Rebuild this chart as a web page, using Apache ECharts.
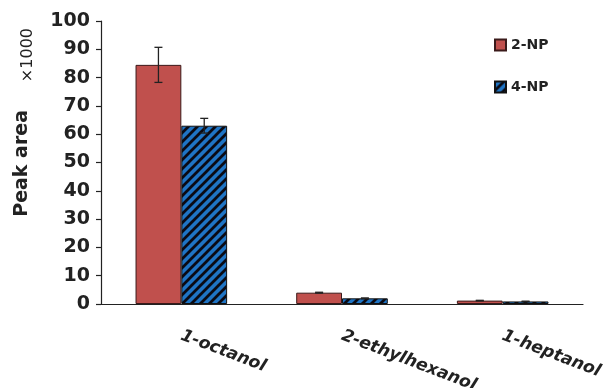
<!DOCTYPE html>
<html>
<head>
<meta charset="utf-8">
<script src="https://cdn.jsdelivr.net/npm/echarts@6/dist/echarts.min.js"></script>
<style>
  html, body { margin: 0; padding: 0; background: #fff; }
  #chart { width: 604px; height: 388px; }
</style>
</head>
<body>
<div id="chart"></div>
<script>
// Extraction solvents and peak areas (×1000) for the two nitrophenols
const categories = ['1-octanol', '2-ethylhexanol', '1-heptanol'];
const np2Values = [84.5, 4.0, 1.2];
const np4Values = [63.0, 2.0, 0.9];
const np2Errors = [6.2, 0.15, 0.1];
const np4Errors = [2.6, 0.15, 0.1];
const yTicks = [0, 10, 20, 30, 40, 50, 60, 70, 80, 90, 100];

const FONT = '"DejaVu Sans", "Open Sans", sans-serif';
const RED = '#C0504D';
const BLUE = '#1F74C4';

// Blue fill with black "/" hatching
function hatchPattern() {
  const s = 9;
  const c = document.createElement('canvas');
  c.width = s; c.height = s;
  const g = c.getContext('2d');
  g.fillStyle = BLUE;
  g.fillRect(0, 0, s, s);
  g.strokeStyle = '#0a0a14';
  g.lineWidth = 2.8;
  g.beginPath();
  for (let k = -1; k <= 1; k++) {
    g.moveTo(k * s - 1, s + 1);
    g.lineTo(k * s + s + 1, -1);
  }
  g.stroke();
  return c;
}
const hatch = { image: hatchPattern(), repeat: 'repeat' };

const CAT_GAP = 0.43;

function errorSeries(values, errors, side) {
  return {
    type: 'custom',
    silent: true,
    z: 5,
    data: values.map((v, i) => [i, v, errors[i]]),
    renderItem: function (params, api) {
      const i = api.value(0), v = api.value(1), e = api.value(2);
      const band = api.size([1, 0])[0];
      const bw = band * (1 - CAT_GAP) / 2;
      const c = api.coord([i, v]);
      const x = c[0] + side * bw / 2;
      const top = api.coord([i, v + e])[1];
      const bot = api.coord([i, v - e])[1];
      const cap = 4;
      const st = { stroke: '#222', lineWidth: 1.3 };
      return {
        type: 'group',
        children: [
          { type: 'line', shape: { x1: x, y1: top, x2: x, y2: bot }, style: st },
          { type: 'line', shape: { x1: x - cap, y1: top, x2: x + cap, y2: top }, style: st },
          { type: 'line', shape: { x1: x - cap, y1: bot, x2: x + cap, y2: bot }, style: st }
        ]
      };
    }
  };
}

const chart = echarts.init(document.getElementById('chart'), null, { renderer: 'canvas' });
chart.setOption({
  animation: false,
  backgroundColor: '#fff',
  grid: { left: 101, right: 21, top: 21, bottom: 84, containLabel: false, outerBoundsMode: 'none' },
  legend: {
    left: 489, top: 33,
    orient: 'vertical',
    itemWidth: 11, itemHeight: 11, itemGap: 28,
    icon: 'rect',
    textStyle: { fontFamily: FONT, fontWeight: 'bold', fontSize: 14, color: '#222' },
    data: ['2-NP', '4-NP']
  },
  xAxis: {
    type: 'category',
    data: categories,
    axisLine: { lineStyle: { color: '#222', width: 1.2 } },
    axisTick: { alignWithLabel: true, length: 6, lineStyle: { color: '#222', width: 1.2 } },
    axisLabel: {
      rotate: -21, margin: 31,
      fontFamily: FONT, fontWeight: 'bold', fontStyle: 'italic', fontSize: 17, color: '#222'
    }
  },
  yAxis: {
    type: 'value',
    min: yTicks[0], max: yTicks[yTicks.length - 1], interval: 10,
    splitLine: { show: false },
    axisLine: { show: true, lineStyle: { color: '#222', width: 1.2 } },
    axisTick: { show: true, length: 5, lineStyle: { color: '#222', width: 1.2 } },
    axisLabel: { margin: 11, fontFamily: FONT, fontWeight: 'bold', fontSize: 19, color: '#222' }
  },
  graphic: [
    {
      type: 'text', left: 13, top: 110, rotation: Math.PI / 2,
      style: { text: 'Peak area', font: 'bold 19px ' + FONT, fill: '#222' }
    },
    {
      type: 'text', left: 20, top: 28, rotation: Math.PI / 2,
      style: { text: '×1000', font: '16px ' + FONT, fill: '#222' }
    }
  ],
  series: [
    {
      name: '2-NP', type: 'bar', data: np2Values,
      barGap: '0%', barCategoryGap: (CAT_GAP * 100) + '%',
      itemStyle: { color: RED, borderColor: '#3a1a1a', borderWidth: 1 }
    },
    {
      name: '4-NP', type: 'bar', data: np4Values,
      barGap: '0%', barCategoryGap: (CAT_GAP * 100) + '%',
      itemStyle: { color: hatch, borderColor: '#111', borderWidth: 1 }
    },
    errorSeries(np2Values, np2Errors, -1),
    errorSeries(np4Values, np4Errors, 1)
  ]
});
</script>
</body>
</html>
